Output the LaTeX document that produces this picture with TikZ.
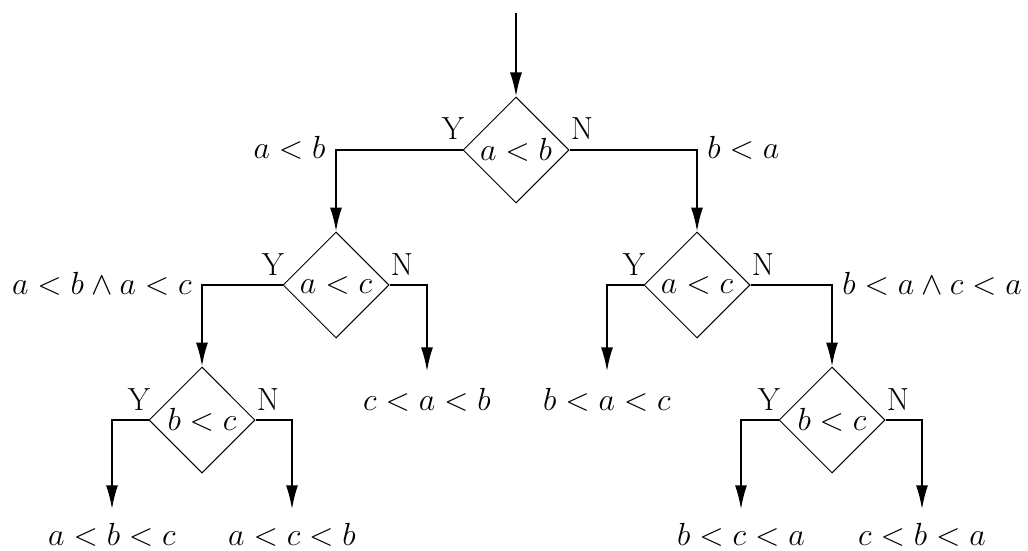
\RequirePackage{fix-cm}
\documentclass[tikz,border=0pt]{standalone}
\usetikzlibrary{arrows.meta,shapes.geometric}
\begin{document}
\begin{tikzpicture}[x=0.5pt,y=-0.5pt,
  font=\fontsize{16}{19}\selectfont,
  dec/.style={diamond,draw,line width=0.5pt,minimum width=53pt,minimum height=53pt,inner sep=0pt,aspect=1},
  conn/.style={line width=1pt,-{Latex[length=12pt,width=6pt]}},
  leaf/.style={inner sep=0pt,anchor=base},
  yn/.style={inner sep=0pt},
  cond/.style={inner sep=0pt}]
\useasboundingbox (0,0) rectangle (1028,551);
% decisions
\node[dec] (d1) at (516,150) {$a<b$};
\node[dec] (d2) at (336,285) {$a<c$};
\node[dec] (d3) at (697,285) {$a<c$};
\node[dec] (d4) at (202,420) {$b<c$};
\node[dec] (d5) at (832,420) {$b<c$};
% leaves
\node[leaf] (l1) at (427,410) {$c<a<b$};
\node[leaf] (l2) at (607,410) {$b<a<c$};
\node[leaf] (l3) at (112,545) {$a<b<c$};
\node[leaf] (l4) at (292,545) {$a<c<b$};
\node[leaf] (l5) at (741,545) {$b<c<a$};
\node[leaf] (l6) at (922,545) {$c<b<a$};
% connectors
\coordinate (start) at (516,13);
\draw[conn] (start) -- (d1.north);
\draw[conn] (d1.west) -| (d2.north);
\draw[conn] (d1.east) -| (d3.north);
\draw[conn] (d2.west) -| (d4.north);
\draw[conn,shorten >=8pt] (d2.east) -| (l1.north);
\draw[conn,shorten >=8pt] (d3.west) -| (l2.north);
\draw[conn] (d3.east) -| (d5.north);
\draw[conn,shorten >=6.5pt] (d4.west) -| (l3.north);
\draw[conn,shorten >=6.5pt] (d4.east) -| (l4.north);
\draw[conn,shorten >=6.5pt] (d5.west) -| (l5.north);
\draw[conn,shorten >=6.5pt] (d5.east) -| (l6.north);
% Y / N labels
\foreach \d in {d1,d2,d3,d4,d5}{
  \node[yn,anchor=base east] (\d y) at ([xshift=1pt,yshift=5pt]\d.west) {Y};
  \node[yn,anchor=base west] (\d n) at ([xshift=0.5pt,yshift=5pt]\d.east) {N};
}
% condition labels at corners
\coordinate (k1) at (d1.west -| d2.north);
\coordinate (k2) at (d1.east -| d3.north);
\coordinate (k3) at (d2.west -| d4.north);
\coordinate (k4) at (d3.east -| d5.north);
\node[cond,anchor=base east] (t1) at ([xshift=-5pt,yshift=-4.5pt]k1) {$a<b$};
\node[cond,anchor=base west] (t2) at ([xshift=5pt,yshift=-4.5pt]k2) {$b<a$};
\node[cond,anchor=base east] (t3) at ([xshift=-5pt,yshift=-4.5pt]k3) {$a<b\wedge a<c$};
\node[cond,anchor=base west] (t4) at ([xshift=5pt,yshift=-4.5pt]k4) {$b<a\wedge c<a$};
\end{tikzpicture}
\end{document}
